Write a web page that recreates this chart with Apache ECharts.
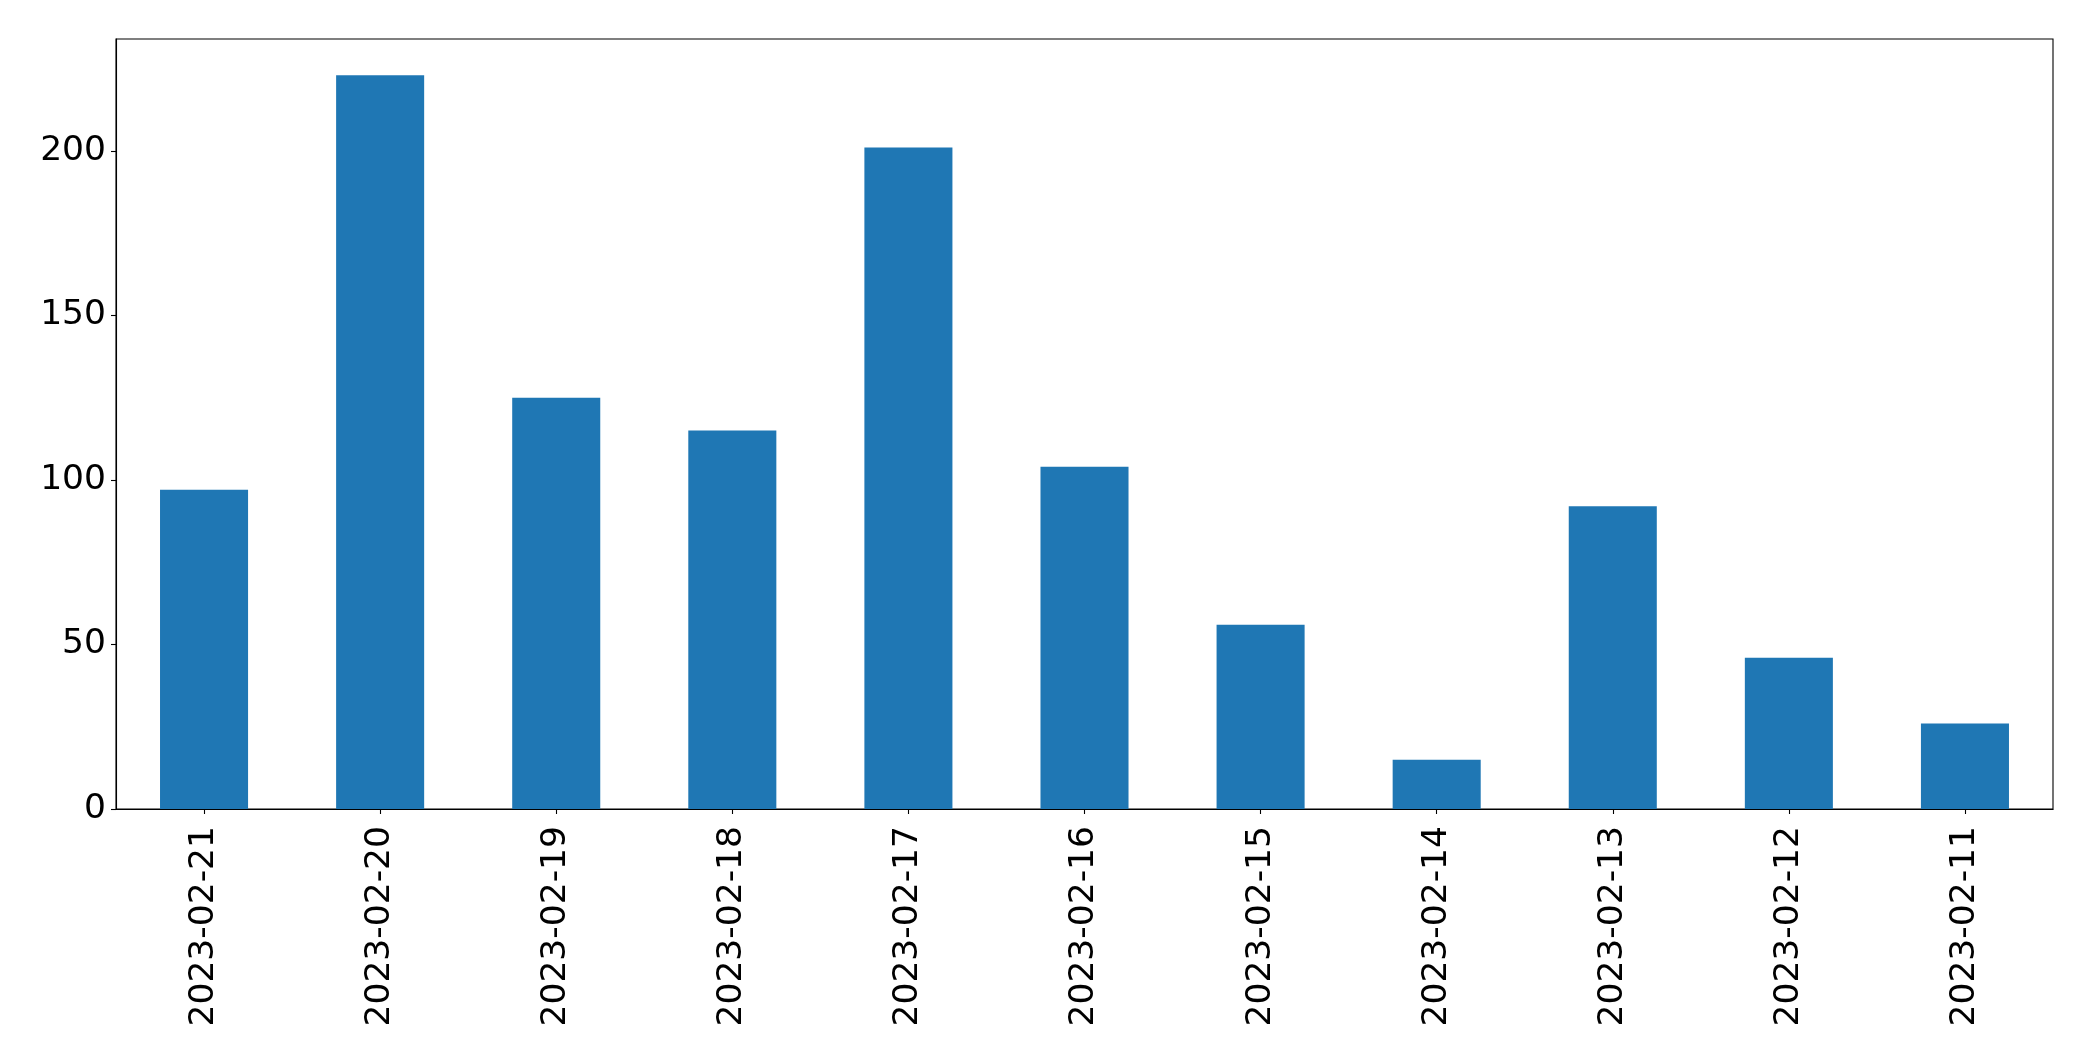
<!DOCTYPE html>
<html>
<head>
<meta charset="utf-8">
<script src="https://cdn.jsdelivr.net/npm/echarts@6/dist/echarts.min.js"></script>
<style>
html,body{margin:0;padding:0;background:#fff;}
#c{width:2093px;height:1061px;}
</style>
</head>
<body>
<div id="c"></div>
<script>
const categories = ['2023-02-21','2023-02-20','2023-02-19','2023-02-18','2023-02-17','2023-02-16','2023-02-15','2023-02-14','2023-02-13','2023-02-12','2023-02-11'];
const values = [97, 223, 125, 115, 201, 104, 56, 15, 92, 46, 26];
const yTicks = [0, 50, 100, 150, 200];

const chart = echarts.init(document.getElementById('c'), null, {renderer: 'canvas'});
const font = 'DejaVu Sans';
chart.setOption({
  animation: false,
  backgroundColor: '#ffffff',
  grid: {left: 116, top: 39, width: 1937, height: 770, show: true, borderColor: '#000', borderWidth: 1.1, containLabel: false},
  xAxis: {
    type: 'category',
    data: categories,
    axisLine: {show: true, lineStyle: {color: '#000', width: 1.1}},
    axisTick: {show: true, alignWithLabel: true, length: 5, lineStyle: {color: '#000', width: 1.1}},
    axisLabel: {rotate: 90, color: '#000', fontFamily: font, fontSize: 34.5, margin: 17, interval: 0},
    splitLine: {show: false}
  },
  yAxis: {
    type: 'value',
    min: 0,
    max: 234,
    interval: 50,
    axisLine: {show: true, lineStyle: {color: '#000', width: 1.1}},
    axisTick: {show: true, length: 5, lineStyle: {color: '#000', width: 1.1}, customValues: yTicks},
    axisLabel: {color: '#000', fontFamily: font, fontSize: 34.5, margin: 10, padding: [4, 0, 0, 0], customValues: yTicks},
    splitLine: {show: false}
  },
  series: [{
    type: 'bar',
    data: values,
    barWidth: '50%',
    itemStyle: {color: '#1f77b4'}
  }]
});
</script>
</body>
</html>
